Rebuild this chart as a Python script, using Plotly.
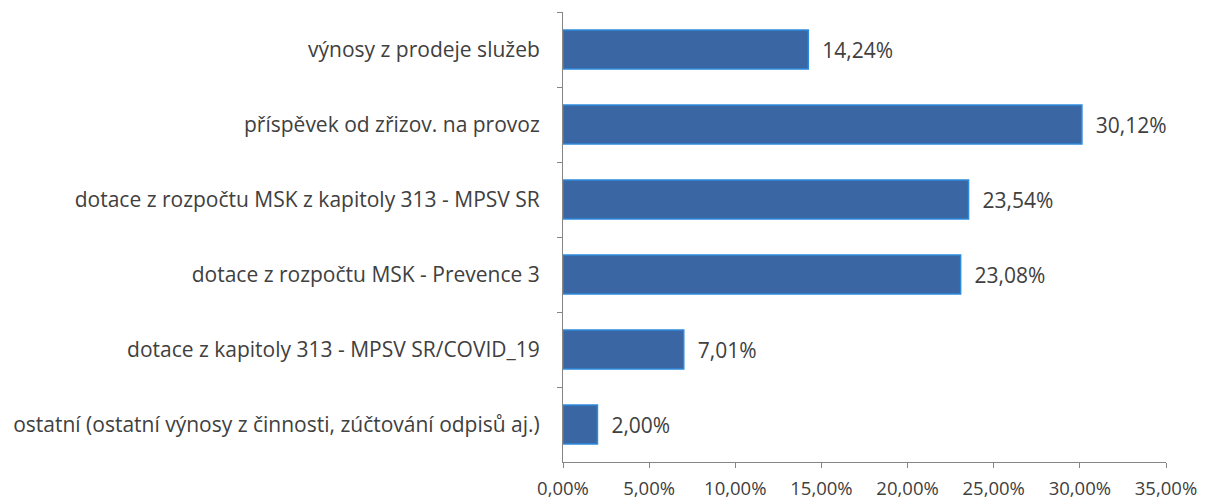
import plotly.graph_objects as go

# source data
categories = [
    "výnosy z prodeje služeb",
    "příspěvek od zřizov. na provoz",
    "dotace z rozpočtu MSK z kapitoly 313 - MPSV SR",
    "dotace z rozpočtu MSK - Prevence 3",
    "dotace z kapitoly 313 - MPSV SR/COVID_19",
    "ostatní (ostatní výnosy z činnosti, zúčtování odpisů aj.)",
]
shares = [14.24, 30.12, 23.54, 23.08, 7.01, 2.00]
x_ticks = [0, 5, 10, 15, 20, 25, 30, 35]
x_labels = ["0,00%", "5,00%", "10,00%", "15,00%", "20,00%", "25,00%", "30,00%", "35,00%"]

fig = go.Figure(go.Bar(
    y=categories,
    x=shares,
    orientation="h",
    marker=dict(color="#3A66A3", line=dict(color="#2E8BDB", width=1.5)),
    texttemplate="  %{x:.2f}%",
    textposition="outside",
    textfont=dict(size=21, color="#404040"),
    cliponaxis=False,
))

# page body has an 8px margin, so the figure is offset by 8px
fig.update_layout(
    width=1197, height=496,
    margin=dict(l=555, r=39, t=4, b=42),
    plot_bgcolor="white", paper_bgcolor="white",
    font=dict(family="Open Sans, sans-serif", size=21, color="#404040"),
    separators=",.",
    bargap=0.48,
    showlegend=False,
    xaxis=dict(
        range=[0, 35], tickvals=x_ticks, ticktext=x_labels,
        showgrid=False, zeroline=False, automargin=False,
        showline=True, linecolor="#868686", linewidth=1,
        ticks="outside", ticklen=5, tickcolor="#868686",
        ticklabelstandoff=5, ticklabeloverflow="allow",
        tickfont=dict(size=18.5),
    ),
    yaxis=dict(
        autorange="reversed", showgrid=False, automargin=False,
        showline=True, linecolor="#868686", linewidth=1,
        ticks="outside", ticklen=5, tickcolor="#868686",
        tickson="boundaries", ticklabelstandoff=18,
    ),
)

fig.write_html("out.html")
